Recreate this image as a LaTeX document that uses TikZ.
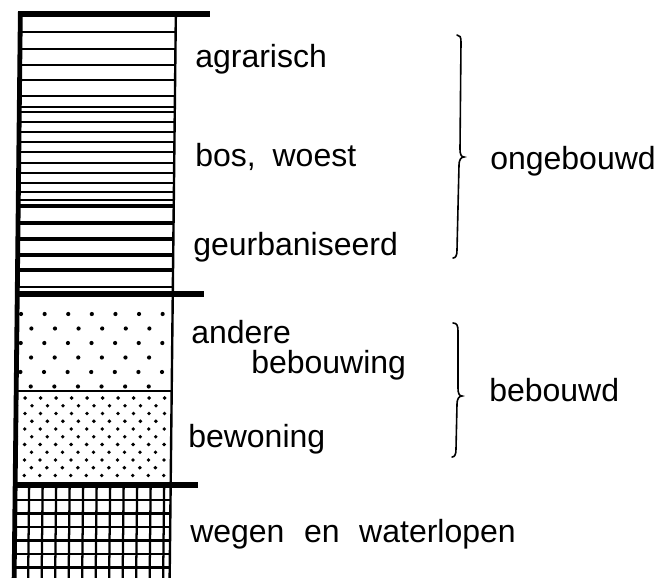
\documentclass[tikz,border=0pt]{standalone}
\usepackage{fontspec}
\setmainfont{Liberation Sans}
\begin{document}
\begin{tikzpicture}[x=0.75pt,y=-0.75pt,
  lbl/.style={anchor=base west,inner sep=0pt,font=\fontsize{24}{28}\selectfont},
  hatchA/.style={line width=1.5pt},
  hatchB/.style={line width=1.2pt},
  hatchC/.style={line width=3pt},
  bar/.style={line width=3.8pt},
  gridline/.style={line width=1.7pt},
  bracepath/.style={line width=1.2pt,line cap=round},
  dotA/.style={fill=black},
]
\useasboundingbox (0,0) rectangle (671,578);

\begin{scope}[xslant=0.011]
  % section 1: agrarisch
  \foreach \y in {32,48.5,64.5,80,96}
    \draw[hatchA] (20,\y) -- (176,\y);
  \draw[line width=1.7pt] (20,107) -- (176,107);
  % section 2: bos, woest
  \foreach \y in {112,122,132,142,152,163,173,183,192,200}
    \draw[hatchB] (20,\y) -- (176,\y);
  % section 3: geurbaniseerd
  \foreach \y in {205.5,223,238.5,255,270}
    \draw[hatchC] (20,\y) -- (176,\y);
  \draw[hatchB] (20,287) -- (176,287);
  % sparse dots: andere bebouwing
  \foreach \y [count=\i] in {314,328.5,343,357.5,372,386.5} {
    \ifodd\i
      \foreach \k in {0,...,6} \fill[dotA] ({24.5+23.6*\k},\y) circle (2.1);
    \else
      \foreach \k in {0,...,5} \fill[dotA] ({35+23.6*\k},\y) circle (2.1);
    \fi
  }
  \draw[line width=1.8pt] (20,391) -- (176,391);
  % dense dots: bewoning
  \foreach \i in {0,...,10} {
    \pgfmathsetmacro{\yy}{398+7.75*\i}
    \ifodd\i
      \foreach \k in {0,...,9} \fill[dotA] ({21+15.5*\k},\yy) circle (1.9);
    \else
      \foreach \k in {0,...,9} \fill[dotA] ({29.5+15.5*\k},\yy) circle (1.9);
    \fi
  }
  % grid: wegen en waterlopen
  \foreach \x in {34.5,48,61.5,75,88.5,102,115.5,129,142.5,156,169.5}
    \draw[gridline] (\x,485) -- (\x,578);
  \foreach \y in {500,513.5,527,540.5,554,567.5}
    \draw[gridline] (20,\y) -- (176,\y);
  % borders and bars
  \draw[line width=1.8pt] (176,14) -- (176,578);
  \draw[line width=3.6pt] (20.5,12) -- (20.5,578);
  \draw[bar] (18.5,14) -- (210,14);
  \draw[line width=4.5pt] (18.5,294) -- (207,294);
  \draw[bar] (18.5,485) -- (203,485);
\end{scope}

% labels
\node[lbl] (agr) at (195,67) {agrarisch};
\node[lbl] (bos) at (195,166) {bos,\hspace{6pt} woest};
\node[lbl] (geu) at (193,255) {geurbaniseerd};
\node[lbl] (and) at (191,343) {andere};
\node[lbl] (beb) at (251,373) {bebouwing};
\node[lbl] (bew) at (188,447) {bewoning};
\node[lbl] (weg) at (190,542) {wegen\hspace{8pt} en\hspace{8pt} waterlopen};
\node[lbl] (ong) at (490,169) {ongebouwd};
\node[lbl] (bbd) at (489,401) {bebouwd};

% braces
\draw[bracepath] (457,35) .. controls (460,35) and (461,37) .. (461,42)
  -- (460,149) .. controls (460,154) and (461,157) .. (464,157)
  .. controls (461,157) and (459,160) .. (459,165)
  -- (457,250) .. controls (457,255) and (456,258) .. (453,258);
\draw[bracepath] (453,323) .. controls (457,323) and (458,326) .. (458,331)
  -- (458,388) .. controls (458,393) and (459,396) .. (462,396)
  .. controls (459,396) and (457,399) .. (457,404)
  -- (456,449) .. controls (456,454) and (455,457) .. (452,457);
\end{tikzpicture}
\end{document}
